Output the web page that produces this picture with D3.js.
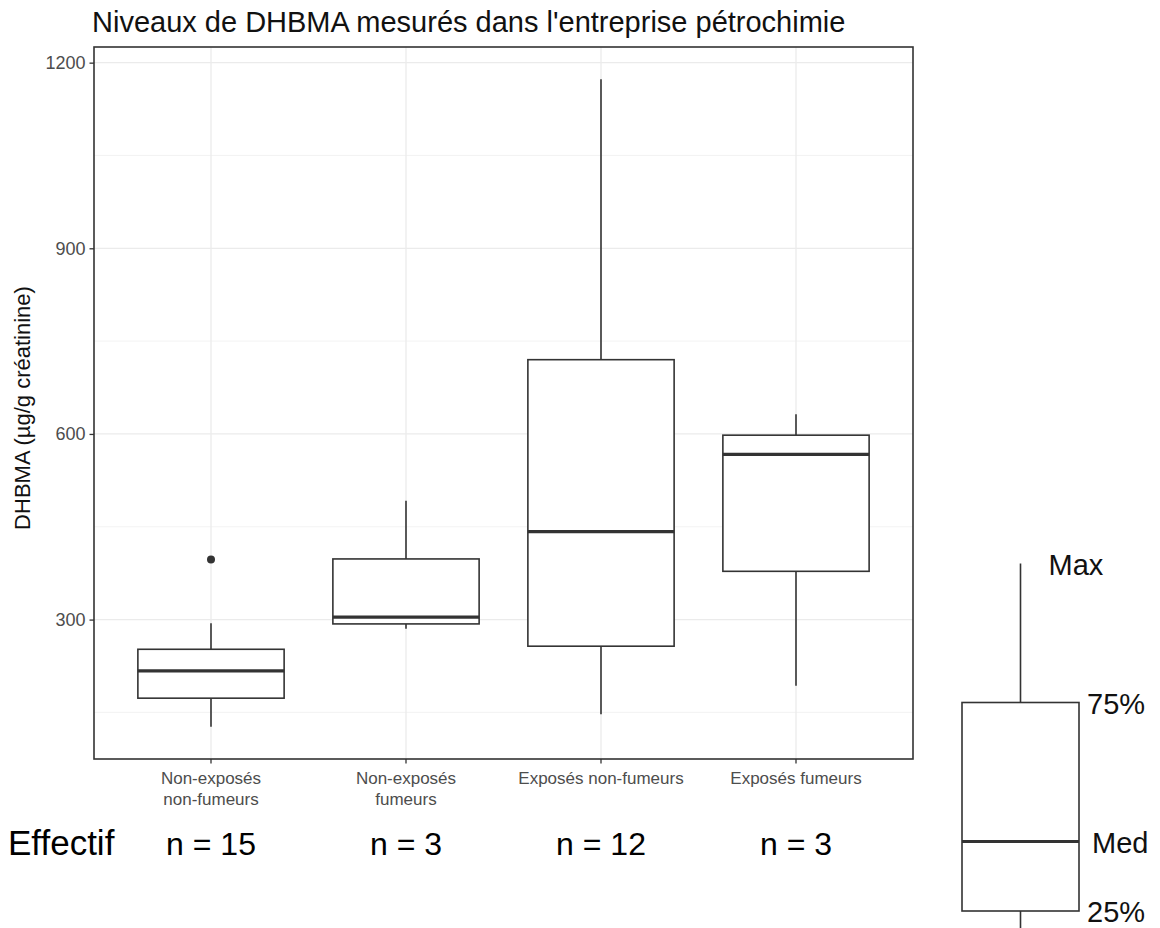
<!DOCTYPE html>
<html>
<head>
<meta charset="utf-8">
<script src="https://cdn.jsdelivr.net/npm/d3@7"></script>
<style>
  body { margin: 0; background: #fff; }
  svg { display: block; }
  text { font-family: "Liberation Sans", Arial, Helvetica, sans-serif; }
</style>
</head>
<body>
<svg id="chart" width="1160" height="928"></svg>
<script>
// Groups (x axis), one label line per array entry
const groupLabels = [
  ["Non-exposés", "non-fumeurs"],
  ["Non-exposés", "fumeurs"],
  ["Exposés non-fumeurs"],
  ["Exposés fumeurs"]
];
// Box statistics for DHBMA (µg/g créatinine)
const whiskerLow  = [127, 285, 147, 193];
const q1          = [173, 293, 257, 378];
const median      = [217, 304, 442, 567];
const q3          = [252, 398, 720, 598];
const whiskerHigh = [294, 492, 1173, 632];
const outliers    = [[397], [], [], []];
const counts      = [15, 3, 12, 3];
const yTicks      = [300, 600, 900, 1200];
const yMinor      = [150, 450, 750, 1050];

// Schematic key: stat levels in arbitrary units and their labels
const keyLevels = { min: 1, q1: 3, med: 4, q3: 6, max: 8 };
const keyLabels = [
  { stat: "max", text: "Max" },
  { stat: "q3",  text: "75%" },
  { stat: "med", text: "Med" },
  { stat: "q1",  text: "25%" }
];

const title = "Niveaux de DHBMA mesurés dans l'entreprise pétrochimie";
const yTitle = "DHBMA (µg/g créatinine)";

const svg = d3.select("#chart");
const panel = { left: 94, right: 913, top: 47, bottom: 759 };

const stats = groupLabels.map((g, i) => ({
  i, lo: whiskerLow[i], q1: q1[i], med: median[i], q3: q3[i], hi: whiskerHigh[i],
  out: outliers[i], n: counts[i]
}));

// y domain: data range expanded by 5% on each side
const allVals = stats.flatMap(s => [s.lo, s.hi, ...s.out]);
const dMin = d3.min(allVals), dMax = d3.max(allVals), pad = (dMax - dMin) * 0.05;
const y = d3.scaleLinear().domain([dMin - pad, dMax + pad]).range([panel.bottom, panel.top]);
// discrete x: 0.6 units of padding at each end
const x = d3.scaleLinear().domain([-0.6, groupLabels.length - 1 + 0.6]).range([panel.left, panel.right]);
const boxW = 0.75;

// grid
const grid = svg.append("g");
grid.selectAll(".ymin").data(yMinor).join("line")
  .attr("x1", panel.left).attr("x2", panel.right)
  .attr("y1", d => y(d)).attr("y2", d => y(d))
  .attr("stroke", "#f0f0f0").attr("stroke-width", 0.8);
grid.selectAll(".ymaj").data(yTicks).join("line")
  .attr("x1", panel.left).attr("x2", panel.right)
  .attr("y1", d => y(d)).attr("y2", d => y(d))
  .attr("stroke", "#ebebeb").attr("stroke-width", 1.3);
grid.selectAll(".xmaj").data(stats).join("line")
  .attr("x1", d => x(d.i)).attr("x2", d => x(d.i))
  .attr("y1", panel.top).attr("y2", panel.bottom)
  .attr("stroke", "#ebebeb").attr("stroke-width", 1.3);

// boxes
const boxes = svg.append("g").selectAll("g").data(stats).join("g");
boxes.append("line")
  .attr("x1", d => x(d.i)).attr("x2", d => x(d.i))
  .attr("y1", d => y(d.q3)).attr("y2", d => y(d.hi))
  .attr("stroke", "#333").attr("stroke-width", 1.6);
boxes.append("line")
  .attr("x1", d => x(d.i)).attr("x2", d => x(d.i))
  .attr("y1", d => y(d.q1)).attr("y2", d => y(d.lo))
  .attr("stroke", "#333").attr("stroke-width", 1.6);
boxes.append("rect")
  .attr("x", d => x(d.i - boxW / 2)).attr("width", d => x(d.i + boxW / 2) - x(d.i - boxW / 2))
  .attr("y", d => y(d.q3)).attr("height", d => y(d.q1) - y(d.q3))
  .attr("fill", "#fff").attr("stroke", "#333").attr("stroke-width", 1.6);
boxes.append("line")
  .attr("x1", d => x(d.i - boxW / 2)).attr("x2", d => x(d.i + boxW / 2))
  .attr("y1", d => y(d.med)).attr("y2", d => y(d.med))
  .attr("stroke", "#333").attr("stroke-width", 3.2);
boxes.selectAll("circle").data(d => d.out.map(v => ({ i: d.i, v }))).join("circle")
  .attr("cx", d => x(d.i)).attr("cy", d => y(d.v)).attr("r", 4)
  .attr("fill", "#333");

// panel border
svg.append("rect")
  .attr("x", panel.left).attr("y", panel.top)
  .attr("width", panel.right - panel.left).attr("height", panel.bottom - panel.top)
  .attr("fill", "none").attr("stroke", "#333").attr("stroke-width", 1.6);

// y axis
const yAxis = svg.append("g").attr("transform", `translate(${panel.left},0)`)
  .call(d3.axisLeft(y).tickValues(yTicks).tickFormat(d3.format("d")).tickSize(4.5).tickPadding(4));
yAxis.select(".domain").remove();
yAxis.selectAll(".tick line").attr("stroke", "#333").attr("stroke-width", 1.3);
yAxis.selectAll(".tick text").attr("fill", "#4d4d4d").style("font-size", "18px");

// x axis ticks and labels
const xg = svg.append("g");
xg.selectAll("line").data(stats).join("line")
  .attr("x1", d => x(d.i)).attr("x2", d => x(d.i))
  .attr("y1", panel.bottom).attr("y2", panel.bottom + 4.5)
  .attr("stroke", "#333").attr("stroke-width", 1.3);
xg.selectAll("text").data(stats).join("text")
  .attr("x", d => x(d.i)).attr("y", panel.bottom + 25)
  .attr("text-anchor", "middle").attr("fill", "#4d4d4d").style("font-size", "17px")
  .selectAll("tspan").data(d => groupLabels[d.i].map(t => ({ t, cx: x(d.i) }))).join("tspan")
  .attr("x", d => d.cx).attr("dy", (d, k) => k === 0 ? 0 : 21).text(d => d.t);

// titles
svg.append("text").attr("x", 92).attr("y", 32)
  .style("font-size", "29px").attr("fill", "#111").text(title);
svg.append("text")
  .attr("transform", `translate(30,${(panel.top + panel.bottom) / 2 + 5}) rotate(-90)`)
  .attr("text-anchor", "middle").style("font-size", "22px").attr("fill", "#111").text(yTitle);

// counts row
svg.append("text").attr("x", 8).attr("y", 855)
  .style("font-size", "35px").attr("fill", "#000").text("Effectif");
svg.append("g").selectAll("text").data(stats).join("text")
  .attr("x", d => x(d.i)).attr("y", 855).attr("text-anchor", "middle")
  .style("font-size", "32px").attr("fill", "#000").text(d => `n = ${d.n}`);

// schematic key
const ky = d3.scaleLinear().domain([1, 8]).range([1050, 563.5]);
const kx = 1020.5, khw = 58.5;
const key = svg.append("g");
key.append("line").attr("x1", kx).attr("x2", kx)
  .attr("y1", ky(keyLevels.max)).attr("y2", ky(keyLevels.q3))
  .attr("stroke", "#333").attr("stroke-width", 1.6);
key.append("line").attr("x1", kx).attr("x2", kx)
  .attr("y1", ky(keyLevels.q1)).attr("y2", ky(keyLevels.min))
  .attr("stroke", "#333").attr("stroke-width", 1.6);
key.append("rect").attr("x", kx - khw).attr("width", 2 * khw)
  .attr("y", ky(keyLevels.q3)).attr("height", ky(keyLevels.q1) - ky(keyLevels.q3))
  .attr("fill", "#fff").attr("stroke", "#333").attr("stroke-width", 1.6);
key.append("line").attr("x1", kx - khw).attr("x2", kx + khw)
  .attr("y1", ky(keyLevels.med)).attr("y2", ky(keyLevels.med))
  .attr("stroke", "#333").attr("stroke-width", 3.2);
key.selectAll("text").data(keyLabels).join("text")
  .attr("x", d => d.stat === "max" ? kx + 28 : (d.stat === "med" ? kx + khw + 13 : kx + khw + 8))
  .attr("y", d => ky(keyLevels[d.stat]) + 11)
  .style("font-size", "29px").attr("fill", "#111").text(d => d.text);
</script>
</body>
</html>
